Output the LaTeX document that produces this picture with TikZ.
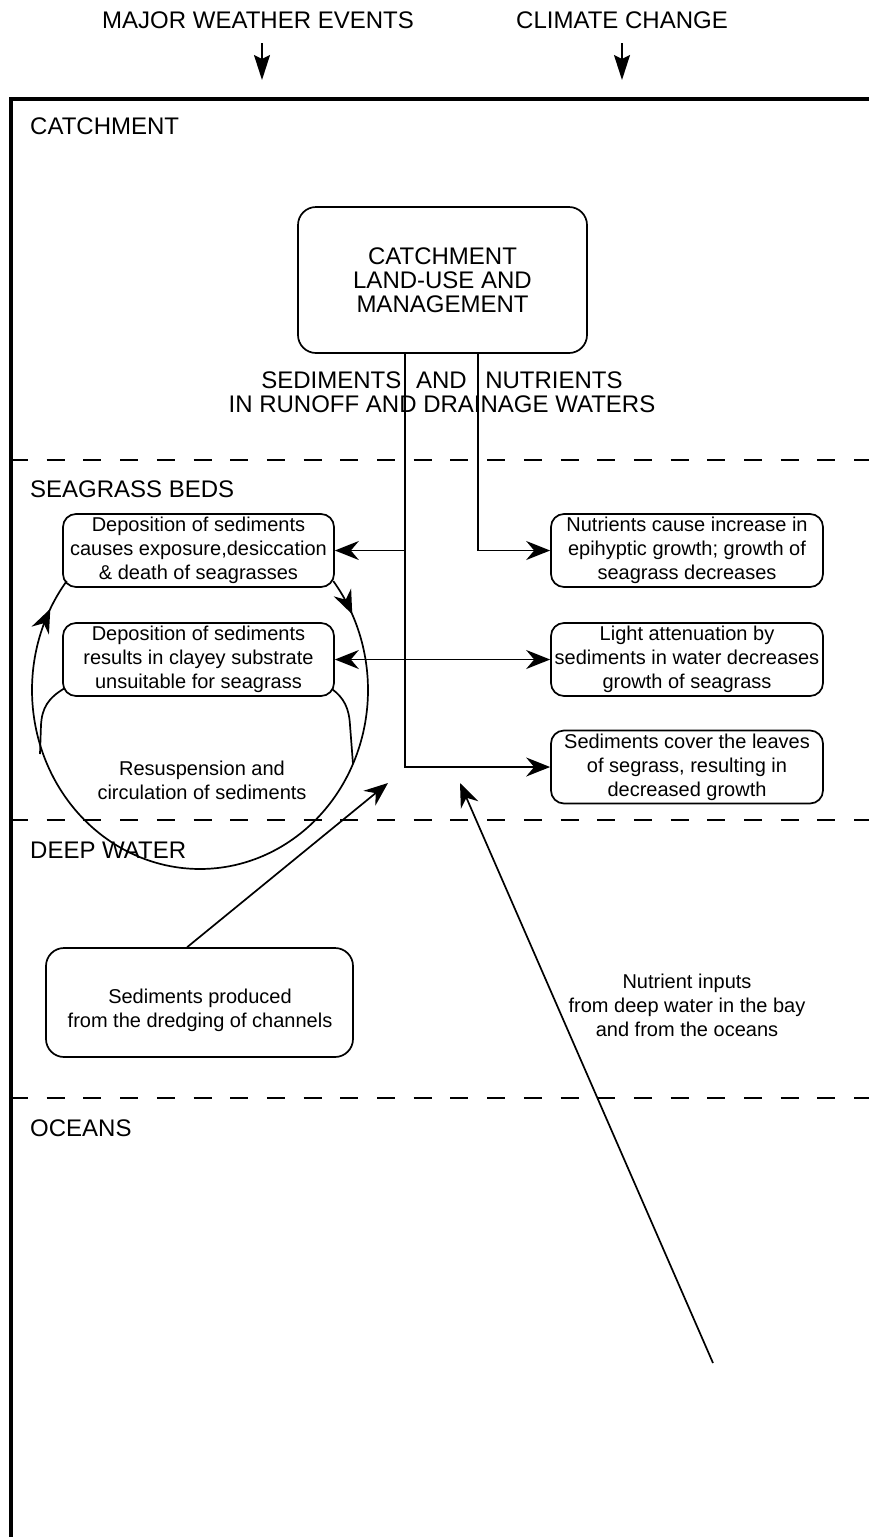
\documentclass[tikz,border=0pt]{standalone}
\usepackage{fontspec}
\setmainfont{Liberation Sans}
\usetikzlibrary{arrows.meta,calc}
\begin{document}
\begin{tikzpicture}[x=1pt,y=-1pt,
  big/.style={font=\fontsize{24}{24}\selectfont, inner sep=0pt},
  small/.style={font=\fontsize{20}{24}\selectfont, inner sep=0pt, align=center},
  box/.style={draw, line width=1.7pt, rounded corners=13pt, align=center, inner sep=0pt, font=\fontsize{20}{24}\selectfont},
  conn/.style={line width=1.7pt},
  tip/.tip={Stealth[length=24pt,width=19pt,inset=8pt]},
  arr/.style={conn, -tip},
  darr/.style={conn, tip-tip},
  harr/.style={line width=1.7pt, -{Stealth[length=25pt,width=16pt,inset=4pt]}},
  zone/.style={line width=1.8pt, dash pattern=on 18pt off 18.7pt},
  frame/.style={line width=4pt, line join=miter},
]
\useasboundingbox (0,0) rectangle (869,1537);

% headers
\node[big, anchor=base] (mwe) at (258,28) {MAJOR WEATHER EVENTS};
\node[big, anchor=base] (cc) at (622,28) {CLIMATE CHANGE};
\coordinate (h1a) at (262,43); \coordinate (h1b) at (262,80);
\coordinate (h2a) at (622,43); \coordinate (h2b) at (622,80);
\draw[harr] (h1a) -- (h1b);
\draw[harr] (h2a) -- (h2b);

% frame and zones
\draw[frame] (875,99) -- (11,99) -- (11,1545);
\draw[zone] (10,460) -- (869,460);
\draw[zone] (10,820) -- (869,820);
\draw[zone] (10,1098) -- (869,1098);

\node[big, anchor=base west] (zc) at (30,134) {CATCHMENT};
\node[big, anchor=base west] (zs) at (30,497) {SEAGRASS BEDS};
\node[big, anchor=base west] (zd) at (30,858) {DEEP WATER};
\node[big, anchor=base west] (zo) at (30,1136) {OCEANS};

% catchment box
\node[box, rounded corners=18pt, font=\fontsize{24}{24}\selectfont, minimum width=289pt, minimum height=146pt] (catch) at (442.5,280) {CATCHMENT\\LAND-USE AND\\MANAGEMENT};
\node[big, align=center] (sed) at (442,392.5) {SEDIMENTS \hspace{8pt}AND \hspace{12pt}NUTRIENTS\\IN RUNOFF AND DRAINAGE WATERS};

% seagrass boxes
\node[box, minimum width=271pt, minimum height=73pt] (lb1) at (198.5,550.5) {Deposition of sediments\\causes exposure,desiccation\\\& death of seagrasses};
\node[box, minimum width=271pt, minimum height=73pt] (lb2) at (198.5,659.5) {Deposition of sediments\\results in clayey substrate\\unsuitable for seagrass};
\node[box, minimum width=272pt, minimum height=73pt] (rb1) at (687,550.5) {Nutrients cause increase in\\epihyptic growth; growth of\\seagrass decreases};
\node[box, minimum width=272pt, minimum height=73pt] (rb2) at (687,659.5) {Light attenuation by\\sediments in water decreases\\growth of seagrass};
\node[box, minimum width=272pt, minimum height=73pt] (rb3) at (687,767) {Sediments cover the leaves\\of segrass, resulting in\\decreased growth};

\node[small] (resus) at (202,780) {Resuspension and\\circulation of sediments};

% dredging
\node[box, rounded corners=18pt, minimum width=307pt, minimum height=109pt] (dredge) at (199.5,1002.5) {};
\node[small] (dtext) at (200,1010) {Sediments produced\\from the dredging of channels};

\node[small] (nutin) at (687,1005) {Nutrient inputs\\from deep water in the bay\\and from the oceans};

% connectors
\coordinate (sx) at (405,0);
\coordinate (nx) at (478,0);
\draw[arr] (catch.south -| sx) |- (rb3.west);
\draw[arr] (sx |- lb1.east) -- (lb1.east);
\draw[arr] (catch.south -| nx) |- (rb1.west);
\draw[darr] (lb2.east) -- (rb2.west);

\coordinate (dtip) at (388,783);
\draw[arr] ($(dredge.north west)+(142,0)$) -- (dtip);
\coordinate (nsrc) at (713,1363);
\coordinate (ntip) at (460,783);
\draw[arr] (nsrc) -- (ntip);

% resuspension loop
\draw[arr] plot[domain=90:207, samples=80] ({200+168*cos(\x)},{690+179*sin(\x)});
\draw[conn] plot[domain=206:217.5, samples=20] ({200+168*cos(\x)},{690+179*sin(\x)});
\draw[arr] plot[domain=-37.5:-25, samples=20] ({200+168*cos(\x)},{690+179*sin(\x)});
\draw[conn] plot[domain=-26:90, samples=80] ({200+168*cos(\x)},{690+179*sin(\x)});
\draw[conn] (65,688) .. controls (48,698) and (42,708) .. (41,725) -- (40,754);
\draw[conn] (332,689) .. controls (344,698) and (349,708) .. (350,725) -- (353,764);
\end{tikzpicture}
\end{document}
